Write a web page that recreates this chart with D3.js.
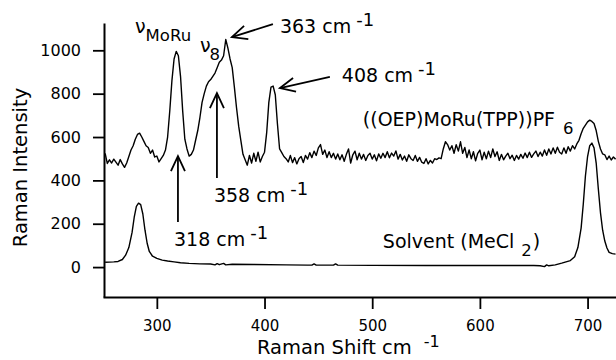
<!DOCTYPE html>
<html>
<head>
<meta charset="utf-8">
<script src="https://cdn.jsdelivr.net/npm/d3@7"></script>
<style>
  html, body { margin: 0; padding: 0; background: #fff; }
  svg { display: block; font-family: "DejaVu Sans", sans-serif; }
</style>
</head>
<body>
<svg id="chart" width="616" height="360"></svg>
<script>
// ---------------- DATA ----------------
// Complex spectrum sampled every 2 cm-1 from 252 to 726 cm-1
const complexStart = 252, complexStep = 2;
const complexIntensity = [
  525, 478, 495, 480, 498, 484, 470, 496, 476, 460,   // 252-270
  480, 510, 540, 560, 590, 612, 618, 600, 580, 560,   // 272-290
  552, 525, 540, 508, 512, 485, 500, 515, 540, 600,   // 292-310
  720, 860, 960, 995, 975, 880, 720, 590, 545, 512,   // 312-330
  520, 540, 585, 630, 690, 760, 800, 835, 855, 865,   // 332-350
  880, 895, 920, 945, 955, 975, 1050, 1010, 960, 920, // 352-370
  830, 735, 650, 585, 520, 495, 470, 515, 480, 525,   // 372-390
  488, 530, 485, 510, 530, 620, 760, 830, 835, 795,   // 392-410
  660, 545, 528, 510, 500, 485, 515, 482, 505, 476,   // 412-430
  500, 510, 482, 515, 498, 528, 505, 535, 515, 550,   // 432-450
  565, 520, 540, 505, 532, 505, 525, 498, 522, 495,   // 452-470
  518, 488, 520, 545, 480, 518, 535, 495, 525, 498,   // 472-490
  520, 492, 515, 525, 498, 518, 490, 522, 502, 525,   // 492-510
  505, 532, 504, 526, 512, 536, 498, 520, 494, 512,   // 512-530
  488, 518, 500, 492, 515, 488, 506, 484, 478, 500,   // 532-550
  476, 492, 480, 500, 496, 504, 500, 545, 578, 565,   // 552-570
  540, 560, 525, 565, 535, 578, 525, 552, 505, 540,   // 572-590
  500, 532, 490, 525, 540, 495, 530, 500, 535, 505,   // 592-610
  545, 510, 532, 492, 520, 495, 512, 525, 500, 516,   // 612-630
  492, 515, 498, 520, 502, 526, 505, 530, 506, 522,   // 632-650
  535, 510, 530, 512, 540, 516, 545, 522, 550, 525,   // 652-670
  553, 530, 522, 550, 525, 555, 535, 560, 545, 568,   // 672-690
  585, 615, 640, 655, 670, 678, 672, 662, 630, 580,   // 692-710
  545, 522, 518, 496, 512, 494, 508, 498              // 712-726
];

// Solvent spectrum (smooth)
const solventShift = [252, 256, 260, 264, 268, 271, 274, 277, 279, 281, 283, 285, 287, 289, 291, 293, 296, 300, 305, 310,
  316, 322, 330, 340, 350, 354, 356, 358, 362, 364, 370, 390, 420, 440, 444, 446, 448, 464, 466, 468,
  500, 550, 600, 650, 656, 660, 662, 664, 670, 676, 680, 684, 688, 691, 694, 696, 698, 700, 702, 704,
  706, 708, 710, 712, 714, 716, 718, 720, 723, 726];
const solventIntensity = [22, 23, 24, 26, 35, 55, 90, 160, 230, 280, 295, 288, 245, 170, 110, 72, 50, 40, 32, 28,
  24, 20, 17, 15, 14, 10, 16, 11, 17, 10, 13, 12, 10, 9, 9, 15, 9, 9, 15, 9,
  8, 7, 7, 7, 6, 2, 10, 6, 10, 18, 24, 30, 48, 90, 180, 290, 420, 510, 560, 572,
  550, 480, 360, 250, 170, 120, 88, 68, 62, 60];

const xTicks = [300, 400, 500, 600, 700];
const yTicks = [0, 200, 400, 600, 800, 1000];

// Annotation arrows in data coordinates [shift, intensity]
const arrows = [
  { from: [319.6, 208], to: [319.6, 512] },
  { from: [355.8, 411], to: [355.8, 803] },
  { from: [407.8, 1121], to: [369.7, 1061] },
  { from: [460.7, 877], to: [414.3, 826] }
];
// Labels: anchor in data coordinates
const peakLabels = [
  { at: [414.3, 1078], main: "363 cm", sup: "-1" },
  { at: [471.8, 852], main: "408 cm", sup: "-1" },
  { at: [353.0, 300], main: "358 cm", sup: "-1" },
  { at: [315.9, 97], main: "318 cm", sup: "-1" }
];
const subLabels = [
  { at: [279.7, 1078], main: "ν", sub: "MoRu", tail: "" },
  { at: [340.0, 990], main: "ν", sub: "8", tail: "" },
  { at: [491.3, 649], main: "((OEP)MoRu(TPP))PF", sub: "6", tail: "" },
  { at: [509.9, 88], main: "Solvent (MeCl", sub: "2", tail: ")" }
];
const xTitle = "Raman Shift cm", xTitleSup = "-1";
const yTitle = "Raman Intensity";

// ---------------- CHART ----------------
const svg = d3.select("#chart");
const x = d3.scaleLinear().domain([250, 726.4]).range([103, 616]);
const y = d3.scaleLinear().domain([-138, 1126]).range([297, 23]);

const complexData = complexIntensity.map((v, i) => [complexStart + i * complexStep, v]);
const solventData = solventShift.map((s, i) => [s, solventIntensity[i]]);

const line = d3.line().x(d => x(d[0])).y(d => y(d[1]));

svg.append("path").datum(complexData).attr("d", line)
  .attr("fill", "none").attr("stroke", "#000").attr("stroke-width", 1.4).attr("stroke-linejoin", "round");
svg.append("path").datum(solventData).attr("d", line)
  .attr("fill", "none").attr("stroke", "#000").attr("stroke-width", 1.4).attr("stroke-linejoin", "round");

// Axes
const xAxis = svg.append("g").attr("transform", "translate(0,297)")
  .call(d3.axisBottom(x).tickValues(xTicks).tickSize(12).tickSizeOuter(0).tickPadding(11).tickFormat(d3.format("d")));
const yAxis = svg.append("g").attr("transform", "translate(104,0)")
  .call(d3.axisLeft(y).tickValues(yTicks).tickSize(11).tickSizeOuter(0).tickPadding(12).tickFormat(d3.format("d")));
[xAxis, yAxis].forEach(g => {
  g.select(".domain").attr("stroke", "#000").attr("stroke-width", 2);
  g.selectAll(".tick line").attr("stroke", "#000").attr("stroke-width", 1.8);
  g.selectAll(".tick text").attr("fill", "#000").attr("font-family", "DejaVu Sans, sans-serif");
});
xAxis.selectAll(".tick text").attr("font-size", 15);
yAxis.selectAll(".tick text").attr("font-size", 16);

// Axis titles
const xt = svg.append("text").attr("x", 257).attr("y", 354).attr("font-size", 19.5).attr("fill", "#000");
xt.append("tspan").text(xTitle);
xt.append("tspan").attr("dx", 12).attr("dy", -7).attr("font-size", 16).text(xTitleSup);

svg.append("text").attr("transform", "translate(27,167.5) rotate(-90)")
  .attr("text-anchor", "middle").attr("font-size", 19.5).attr("fill", "#000").text(yTitle);

// Arrows
arrows.forEach(a => {
  const x1 = x(a.from[0]), y1 = y(a.from[1]), x2 = x(a.to[0]), y2 = y(a.to[1]);
  const len = Math.hypot(x2 - x1, y2 - y1);
  const ux = (x2 - x1) / len, uy = (y2 - y1) / len;
  const L = 15, W = 7;
  const bx = x2 - ux * L, by = y2 - uy * L;
  svg.append("line").attr("x1", x1).attr("y1", y1).attr("x2", x2).attr("y2", y2)
    .attr("stroke", "#000").attr("stroke-width", 1.8);
  svg.append("polyline")
    .attr("points", [[bx - uy * W, by + ux * W], [x2, y2], [bx + uy * W, by - ux * W]].map(p => p.join(",")).join(" "))
    .attr("fill", "none").attr("stroke", "#000").attr("stroke-width", 1.8).attr("stroke-linejoin", "miter");
});

// Peak labels with superscript
peakLabels.forEach(l => {
  const t = svg.append("text").attr("x", x(l.at[0])).attr("y", y(l.at[1]))
    .attr("font-size", 19).attr("fill", "#000");
  t.append("tspan").text(l.main);
  t.append("tspan").attr("dx", 5).attr("dy", -7).attr("font-size", 18).text(l.sup);
});

// Labels with subscript
const subDx = { "MoRu": 0, "8": -1, "6": 8, "2": 7 };
subLabels.forEach(l => {
  const t = svg.append("text").attr("x", x(l.at[0])).attr("y", y(l.at[1]))
    .attr("font-size", 19).attr("fill", "#000");
  t.append("tspan").text(l.main);
  t.append("tspan").attr("dx", subDx[l.sub]).attr("dy", 8).attr("font-size", 16.5).text(l.sub);
  if (l.tail) t.append("tspan").attr("dx", 1).attr("dy", -8).text(l.tail);
});
</script>
</body>
</html>
